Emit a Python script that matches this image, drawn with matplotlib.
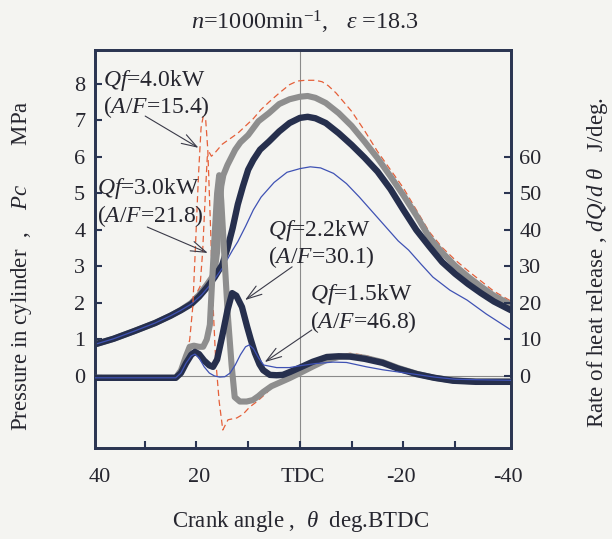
import matplotlib
matplotlib.use('Agg')
import matplotlib.pyplot as plt
import matplotlib.transforms as mtransforms

plt.rcParams['font.family'] = ['Liberation Serif', 'DejaVu Serif']
plt.rcParams['mathtext.fontset'] = 'custom'
plt.rcParams['mathtext.rm'] = 'Liberation Serif'
plt.rcParams['mathtext.it'] = 'Liberation Serif:italic'
plt.rcParams['mathtext.bf'] = 'Liberation Serif:bold'

# ---------------- data ----------------
# Cylinder pressure (MPa) vs crank angle (deg BTDC)
crank_p15 = [40, 36, 32, 28, 25, 23, 21, 19, 17, 15, 14, 13, 12, 10.5, 9, 7.5, 5, 2.5, 0, -2, -4, -6.5,
             -9, -11.5, -14, -16.5, -19, -21, -23.5, -25.7, -29, -32.3, -36, -40.8]
p15 = [0.85, 1.02, 1.23, 1.45, 1.65, 1.8, 1.97, 2.22, 2.55, 2.95, 3.2, 3.45, 3.68, 4.1, 4.55, 4.9, 5.3, 5.58,
       5.68, 5.73, 5.7, 5.55, 5.27, 4.9, 4.5, 4.1, 3.7, 3.45, 3.05, 2.71, 2.35, 2.08, 1.7, 1.26]

crank_p22 = [40, 36, 32, 28, 25, 23, 21, 19.5, 18, 16.5, 15, 14, 13, 12, 11, 10, 9, 7.7, 6, 4, 2, 0, -1.5,
             -3, -5, -7.5, -10, -12.5, -15, -17.5, -20, -22.5, -25, -27.5, -30, -32.5, -35, -37.5, -40.8]
p22 = [0.85, 1.02, 1.23, 1.45, 1.65, 1.8, 1.97, 2.17, 2.42, 2.7, 3.05, 3.5, 4.05, 4.7, 5.2, 5.65, 5.92, 6.2,
       6.42, 6.7, 6.93, 7.07, 7.1, 7.06, 6.93, 6.65, 6.33, 5.98, 5.6, 5.12, 4.55, 4.0, 3.55, 3.12, 2.8, 2.52,
       2.27, 2.04, 1.8]

crank_p30 = [40, 36, 32, 28, 25, 23, 21, 19.5, 18, 17, 16.5, 16, 15.6, 15.2, 14.8, 14, 13.5, 12.5, 11.5,
             10, 8, 6, 4, 2, 0, -1.5, -3, -5, -7.5, -10, -12.5, -15, -17.5, -20, -22.5, -25, -27.5, -30,
             -32.5, -35, -37.5, -40.8]
p30 = [0.85, 1.02, 1.23, 1.45, 1.65, 1.81, 2.0, 2.22, 2.5, 2.7, 2.85, 3.4, 4.5, 5.2, 5.5, 5.78, 5.92, 6.2,
       6.4, 6.6, 6.98, 7.2, 7.45, 7.58, 7.65, 7.67, 7.62, 7.48, 7.2, 6.85, 6.42, 5.97, 5.47, 4.95, 4.4, 3.8,
       3.38, 3.02, 2.72, 2.45, 2.2, 1.95]

crank_p40 = [40, 36, 32, 28, 25, 23, 21, 20, 19.3, 18.8, 18.3, 17.9, 17.5, 17.1, 16.5, 15, 13.5, 12, 10.5,
             9, 7.5, 6, 4, 2, 0.5, -1, -3, -4.3, -5.5, -7, -8.5, -10, -12.5, -15, -17.5, -20, -22.5, -25,
             -27.5, -30, -32.5, -35, -37.5, -40.8]
p40 = [0.85, 1.02, 1.23, 1.45, 1.66, 1.83, 2.05, 2.25, 2.45, 3.4, 4.9, 6.0, 6.12, 6.02, 6.1, 6.35, 6.5,
       6.65, 6.85, 7.05, 7.3, 7.5, 7.75, 7.98, 8.08, 8.1, 8.1, 8.06, 7.95, 7.75, 7.5, 7.25, 6.72, 6.15, 5.65,
       5.15, 4.55, 3.95, 3.52, 3.18, 2.88, 2.6, 2.32, 2.05]

# Rate of heat release (J/deg) vs crank angle
crank_q15 = [40, 24, 23, 22, 21, 20.3, 19.5, 18.5, 17.5, 16.5, 15.5, 14.5, 13.5, 12.5, 11.5, 10.5, 9.8, 9,
             8, 7, 4.5, 2, 0, -3, -6.4, -9, -12.9, -16, -19, -22.6, -26, -30, -40.8]
q15 = [-0.5, -0.5, 0.8, 3.5, 5.5, 6.0, 5.0, 2.5, 0.8, 0.0, -0.3, -0.2, 0.8, 3.0, 5.8, 8.0, 8.5, 7.5, 5.0,
       3.0, 2.3, 2.3, 2.8, 3.4, 3.8, 3.7, 2.5, 1.7, 1.1, 0.4, -0.3, -0.9, -1.2]

crank_q22 = [40, 24, 23, 22, 21, 20.3, 19.5, 18.5, 17.5, 16.8, 16, 15, 14, 13.1, 12.3, 11.2, 10.2, 9.5, 8.7,
             7.8, 7.1, 5.8, 4.5, 3.3, 1.9, 0, -2.5, -5.2, -7.5, -9.7, -12.5, -16, -19, -22.6, -26, -29.6, -34,
             -38.6, -40.8]
q22 = [-0.5, -0.5, 0.8, 3.5, 5.8, 6.6, 6.0, 4.2, 2.9, 2.5, 4.5, 11, 18, 22.7, 22, 18.9, 13.5, 10, 6.3, 3.2,
       1.6, 0.3, 0.2, 0.3, 1.1, 2.3, 3.9, 5.2, 5.4, 5.3, 4.7, 3.6, 2.0, 0.5, -0.5, -1.3, -1.6, -1.6, -1.6]

crank_q30 = [40, 24, 23, 22, 21.3, 20.5, 19.5, 18.7, 18.0, 17.4, 17.0, 16.5, 16.0, 15.6, 15.2, 14.6, 13.9,
             13.2, 12.6, 11.6, 10.3, 9.1, 8, 7.1, 5.5, 3.9, 2, 0, -2.5, -5, -7.5, -9.7, -12.5, -16, -19, -22.6,
             -26, -29.6, -34, -40.8]
q30 = [-0.5, -0.5, 1.5, 5.5, 8.0, 8.3, 8.0, 8.0, 10, 14, 25, 38, 50, 55, 48, 33, 16, 3, -5.8, -7.0, -7.0,
       -6.6, -5.5, -4.4, -2.8, -1.8, -0.6, 0.8, 2.6, 4.3, 5.2, 5.5, 5.0, 3.8, 2.2, 0.6, -0.5, -1.2, -1.5,
       -1.5]

crank_q40 = [40, 24.5, 23.5, 22.6, 21.8, 21.3, 20.7, 20.2, 19.6, 19.1, 18.7, 18.2, 17.8, 17.3, 16.8, 16.3,
             15.6, 14.9, 13.9, 12.2, 11, 9.7, 8.3, 6.4, 5.2, 3.5, 1.5, 0, -2.5, -5, -7.5, -9.7, -12.5, -16,
             -19, -22.6, -26, -29.6, -34, -40.8]
q40 = [-0.5, -0.5, 1.0, 3.6, 7.0, 9.9, 19, 35, 55, 68, 71, 70, 62, 42, 20, 5, -7, -14.8, -12, -11.5, -10.5,
       -8.5, -7.0, -4.6, -2.5, -1.0, 0.2, 1.2, 3.0, 4.7, 5.8, 6.2, 5.7, 4.2, 2.5, 0.7, -0.4, -1.0, -1.3, -1.3]

title_text = r'$n$=1000min$^{\mathrm{-1}}$,   $\varepsilon$ =18.3'
xlabel_text = r'Crank angle ,  $\theta$  deg.BTDC'
ylabel_left = r'Pressure in cylinder  ,    $Pc$       MPa'
ylabel_right = r'Rate of heat release , $dQ/d\ \theta$   J/deg.'
xtick_pos = [38.6, 19.5, -0.6, -19.5, -40.2]
xtick_labels = ['40', '20', 'TDC', '-20', '-40']
ann_text = [r'$Qf$=4.0kW' + '\n' + r'($A/F$=15.4)',
            r'$Qf$=3.0kW' + '\n' + r'($A/F$=21.8)',
            r'$Qf$=2.2kW' + '\n' + r'($A/F$=30.1)',
            r'$Qf$=1.5kW' + '\n' + r'($A/F$=46.8)']

# ---------------- style ----------------
BG = '#f4f4f1'
NAVY = '#262f4d'
GRAY = '#8e8e8e'
BLUE = '#3f52b4'
ORANGE = '#e5603a'
TXT = '#26262f'
FRAME = '#2b3552'

fig = plt.figure(figsize=(6.12, 5.39), dpi=100, facecolor=BG)
ax = fig.add_axes([95 / 612, 1 - 448 / 539, 416 / 612, 398 / 539])
ax.set_facecolor(BG)
ax.set_xlim(39.6, -40.8)
ax.set_ylim(-1.973, 8.93)

ax.axvline(0, color='#8a8a8a', lw=0.8, zorder=1)
ax.axhline(0, color='#8a8a8a', lw=0.8, zorder=1)

# pressure curves
ax.plot(crank_p40, p40, color=ORANGE, lw=0.9, ls=(0, (5, 3)), zorder=2)
ax.plot(crank_p30, p30, color=GRAY, lw=4.4, solid_capstyle='round', zorder=3)
ax.plot(crank_p22, p22, color=NAVY, lw=4.6, solid_capstyle='round', zorder=4)
ax.plot(crank_p15, p15, color=BLUE, lw=0.9, zorder=5)

ax.set_yticks(range(0, 9))
ax.set_xticks([30, 20, 10, 0, -10, -20, -30])
ax.set_xticklabels([])
ax.tick_params(axis='y', direction='in', length=5, width=1.5, color=FRAME, labelsize=16,
               labelcolor=TXT, pad=7, right=False)
ax.tick_params(axis='x', direction='in', length=5, width=1.5, color=FRAME, top=False)
for s in ax.spines.values():
    s.set_color(FRAME)
    s.set_linewidth(2.0)

# heat-release curves
ax2 = ax.twinx()
ax2.set_ylim(-19.73, 89.3)
ax2.plot(crank_q40, q40, color=ORANGE, lw=0.9, ls=(0, (5, 3)), zorder=2)
ax2.plot(crank_q30, q30, color=GRAY, lw=4.4, solid_capstyle='round', zorder=3)
ax2.plot(crank_q22, q22, color=NAVY, lw=4.6, solid_capstyle='round', zorder=4)
ax2.plot(crank_q15, q15, color=BLUE, lw=0.9, zorder=5)
ax2.set_yticks(range(0, 61, 10))
ax2.tick_params(axis='y', direction='in', length=5, width=1.5, color=FRAME, labelsize=16,
                labelcolor=TXT, pad=6, left=False)
for s in ax2.spines.values():
    s.set_color(FRAME)
    s.set_linewidth(2.0)

# x tick labels
trans = mtransforms.blended_transform_factory(ax.transData, ax.transAxes)
for xp, lab in zip(xtick_pos, xtick_labels):
    ax.text(xp, -0.073, lab, transform=trans, ha='center', va='center', fontsize=16, color=TXT)

# titles / labels
fig.text(305 / 612, 1 - 22 / 539, title_text, ha='center', va='center', fontsize=17.5, color=TXT)
fig.text(301 / 612, 1 - 521 / 539, xlabel_text, ha='center', va='center', fontsize=16.5, color=TXT)
fig.text(22 / 612, 1 - 266 / 539, ylabel_left, ha='center', va='center', rotation=90, fontsize=16.5,
         color=TXT)
fig.text(598 / 612, 1 - 262 / 539, ylabel_right, ha='center', va='center', rotation=90, fontsize=16.5,
         color=TXT)

# annotations (data coordinates: crank angle, MPa)
txt_pos = [(38.05, 7.72), (39.2, 4.75), (6.2, 3.62), (-1.9, 1.85)]
arrows = [((29.9, 7.12), (19.6, 6.25)), ((29.5, 4.08), (17.8, 3.37)),
          ((1.5, 2.99), (10.6, 2.08)), ((-2.3, 1.26), (6.8, 0.38))]
for (tx, ty), t in zip(txt_pos, ann_text):
    ax2.text(tx, ty * 10, t, ha='left', va='center', fontsize=17, color=TXT, linespacing=1.08,
             zorder=10)
for (s, e) in arrows:
    ax2.annotate('', xy=(e[0], e[1] * 10), xytext=(s[0], s[1] * 10),
                 arrowprops=dict(arrowstyle='->,head_length=0.55,head_width=0.18', color='#3a3a48',
                                 lw=0.8, mutation_scale=20, shrinkA=0, shrinkB=0), zorder=10)

fig.savefig('out.png', dpi=100, facecolor=BG)
